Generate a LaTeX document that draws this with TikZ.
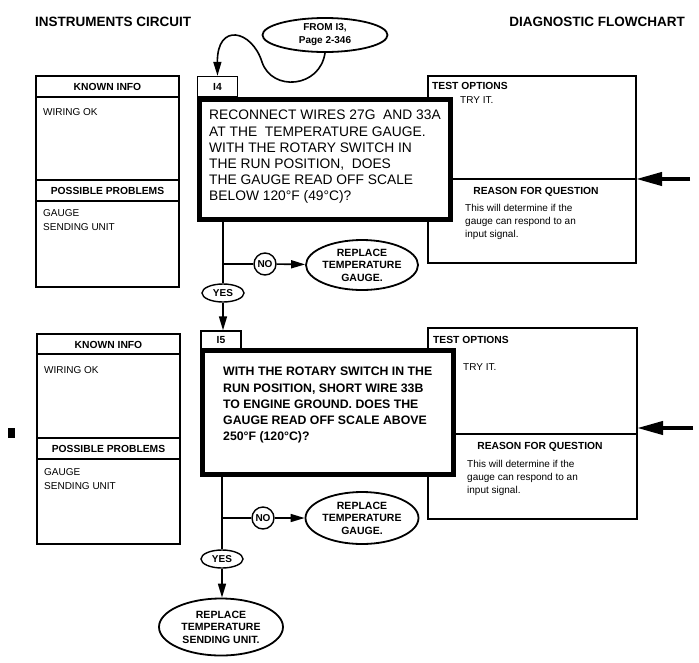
\documentclass[tikz,border=0pt]{standalone}
\usepackage{fontspec}
\setmainfont{Liberation Sans}
\usetikzlibrary{arrows.meta,positioning,shapes.geometric}

\begin{document}
\begin{tikzpicture}[
    x=1pt,
    y=-1pt,
    >={Triangle[length=14pt,width=8pt]},
    flow/.style={
        line width=1.6pt
    },
    flowarrow/.style={
        ->,
        line width=1.6pt
    },
    inarrow/.style={
        -{Triangle[length=26pt,width=13pt]},
        line width=4pt
    },
    panel/.style={
        line width=1.4pt
    },
    questionbox/.style={
        draw,
        fill=white,
        rectangle,
        line width=5pt,
        inner sep=0pt
    },
    labelbox/.style={
        draw,
        fill=white,
        rectangle,
        line width=1.4pt,
        minimum width=40pt,
        inner sep=0pt,
        font=\fontsize{10.3}{12}\selectfont\bfseries
    },
    outcome/.style={
        draw,
        ellipse,
        fill=white,
        line width=1.8pt,
        inner sep=0pt,
        align=center,
        font=\fontsize{10.5}{12.6}\selectfont\bfseries
    },
    answer/.style={
        draw,
        ellipse,
        fill=white,
        line width=1.4pt,
        inner sep=1pt,
        minimum width=42pt,
        minimum height=18pt,
        font=\fontsize{10}{12}\selectfont\bfseries
    },
    noanswer/.style={
        draw,
        circle,
        fill=white,
        line width=1.4pt,
        inner sep=0pt,
        minimum size=22pt,
        font=\fontsize{10}{12}\selectfont\bfseries
    },
    heading/.style={
        inner sep=0pt,
        font=\fontsize{13.5}{16}\selectfont\bfseries
    },
    paneltitle/.style={
        inner sep=0pt,
        font=\fontsize{10.3}{12}\selectfont\bfseries
    },
    paneltext/.style={
        inner sep=0pt,
        align=left,
        font=\fontsize{10}{14}\selectfont
    },
    reasontext/.style={
        inner sep=0pt,
        align=left,
        font=\fontsize{10}{13}\selectfont
    },
    questiontext/.style={
        inner sep=0pt,
        align=left,
        font=\fontsize{13.8}{16.2}\selectfont
    },
    questionbold/.style={
        inner sep=0pt,
        align=left,
        font=\fontsize{12.3}{16.3}\selectfont\bfseries
    }
]

\useasboundingbox (0,0) rectangle (699,662);

% ============================================================
% Page header
% ============================================================
\node[heading, anchor=west] (circuit) at (35,22) {INSTRUMENTS CIRCUIT};
\node[heading, anchor=east] (chart)   at (685,22) {DIAGNOSTIC FLOWCHART};

\node[outcome, minimum width=125pt, minimum height=34pt,
      font=\fontsize{10}{13}\selectfont\bfseries] (from-i3) at (325,35)
    {FROM I3,\\Page 2-346};

% small mark at the left margin
\fill (8,428) rectangle (15,438);

% ============================================================
% Step I4
% ============================================================
\begin{scope}
    % known info / possible problems
    \draw[panel] (36,76) rectangle (179,287);
    \draw[panel] (36,97)  -- (179,97);
    \draw[panel] (36,180) -- (179,180);
    \draw[panel] (36,201) -- (179,201);

    \node[paneltitle] (known4) at (107.5,87) {KNOWN INFO};
    \node[paneltext, anchor=west] (wiring4) at (43,112) {WIRING OK};
    \node[paneltitle] (problems4) at (107.5,190.5) {POSSIBLE PROBLEMS};
    \node[paneltext, anchor=north west] (causes4) at (43,209.5)
        {GAUGE\\SENDING UNIT};

    % test options / reason for question
    \draw[panel] (428,76) rectangle (636,263);
    \draw[panel] (428,179) -- (636,179);
    \coordinate (opt4-in) at (636,179);
    \coordinate (feed4)   at (690,179);

    \node[paneltitle, anchor=west] (test4) at (432,86) {TEST OPTIONS};
    \node[paneltext, anchor=west] (try4) at (460,100) {TRY IT.};
    \node[paneltitle] (reason4) at (536,192) {REASON FOR QUESTION};
    \node[reasontext, anchor=north west] (why4) at (465,204.5)
        {This will determine if the\\gauge can respond to an\\input signal.};

    \draw[inarrow] (feed4) -- (opt4-in);

    % question
    \node[questionbox, minimum width=251pt, minimum height=120pt]
        (q4) at (325,159.5) {};
    \node[labelbox, minimum height=20pt] (i4) at (217.5,86.5) {I4};
    \node[questiontext, anchor=north west] (q4-text) at (209,110)
        {RECONNECT WIRES 27G\ \ AND 33A\\
         AT THE\ \ TEMPERATURE GAUGE.\\
         WITH THE ROTARY SWITCH IN\\
         THE RUN POSITION,\ \ DOES\\
         THE GAUGE READ OFF SCALE\\
         BELOW 120\textdegree F (49\textdegree C)?};

    % answers
    \node[answer]   (yes4) at (223,293) {YES};
    \node[noanswer] (no4)  at (265,264) {NO};
    \node[outcome, minimum width=112pt, minimum height=50pt]
        (gauge4) at (362,265) {REPLACE\\TEMPERATURE\\GAUGE.};

    \draw[->, line width=1.6pt]
        (from-i3.south) .. controls (320,88) and (272,92) .. (262,62)
        .. controls (252,30) and (217,22) .. (i4.north);

    \draw[flow] (q4.south -| yes4) -- (yes4);
    \draw[flow] (yes4 |- no4) -- (no4);
    \draw[flowarrow] (no4) -- (gauge4);
\end{scope}

% ============================================================
% Step I5
% ============================================================
\begin{scope}
    % known info / possible problems
    \draw[panel] (37,334) rectangle (180,544);
    \draw[panel] (37,354) -- (180,354);
    \draw[panel] (37,438) -- (180,438);
    \draw[panel] (37,459) -- (180,459);

    \node[paneltitle] (known5) at (108.5,344.5) {KNOWN INFO};
    \node[paneltext, anchor=west] (wiring5) at (44,370) {WIRING OK};
    \node[paneltitle] (problems5) at (108.5,448.5) {POSSIBLE PROBLEMS};
    \node[paneltext, anchor=north west] (causes5) at (44,468.5)
        {GAUGE\\SENDING UNIT};

    % test options / reason for question
    \draw[panel] (428,328) rectangle (637,519);
    \draw[panel] (428,434) -- (637,434);
    \coordinate (opt5-in) at (637,428);
    \coordinate (feed5)   at (693,428);

    \node[paneltitle, anchor=west] (test5) at (433,340) {TEST OPTIONS};
    \node[paneltext, anchor=west] (try5) at (463,367) {TRY IT.};
    \node[paneltitle] (reason5) at (540,447) {REASON FOR QUESTION};
    \node[reasontext, anchor=north west] (why5) at (467,460)
        {This will determine if the\\gauge can respond to an\\input signal.};

    \draw[inarrow] (feed5) -- (opt5-in);

    % question
    \node[questionbox, minimum width=251pt, minimum height=124pt]
        (q5) at (328,412.5) {};
    \node[labelbox, minimum height=18pt] (i5) at (221,340) {I5};
    \node[questionbold, anchor=north west] (q5-text) at (223,367)
        {WITH THE ROTARY SWITCH IN THE\\
         RUN POSITION, SHORT WIRE 33B\\
         TO ENGINE GROUND. DOES THE\\
         GAUGE READ OFF SCALE ABOVE\\
         250\textdegree F (120\textdegree C)?};

    \draw[flowarrow] (yes4) -- (yes4 |- i5.north);

    % answers
    \node[answer]   (yes5) at (222,559) {YES};
    \node[noanswer] (no5)  at (263,518) {NO};
    \node[outcome, minimum width=113pt, minimum height=52pt]
        (gauge5) at (362,518) {REPLACE\\TEMPERATURE\\GAUGE.};
    \node[outcome, minimum width=124pt, minimum height=57pt]
        (sender5) at (221,627) {REPLACE\\TEMPERATURE\\SENDING UNIT.};

    \draw[flow] (q5.south -| yes5) -- (yes5);
    \draw[flow] (yes5 |- no5) -- (no5);
    \draw[flowarrow] (no5) -- (gauge5);
    \draw[flowarrow] (yes5) -- (yes5 |- sender5.north);
\end{scope}

\end{tikzpicture}
\end{document}
